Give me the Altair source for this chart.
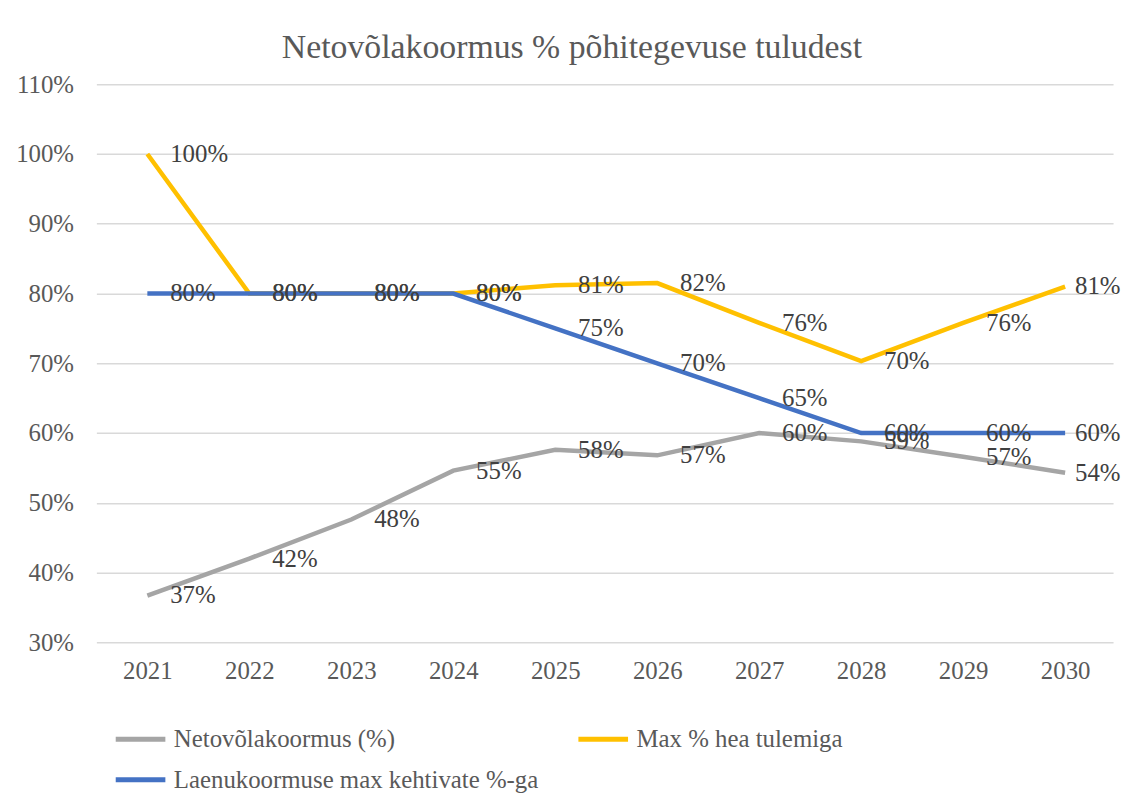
import altair as alt
import pandas as pd

years = [2021, 2022, 2023, 2024, 2025, 2026, 2027, 2028, 2029, 2030]
series_names = ["Netovõlakoormus (%)", "Max % hea tulemiga", "Laenukoormuse max kehtivate %-ga"]
netovolakoormus = [0.367, 0.420, 0.476, 0.546, 0.576, 0.568, 0.600, 0.588, 0.566, 0.543]
max_hea_tulemiga = [1.00, 0.80, 0.80, 0.80, 0.812, 0.815, 0.758, 0.703, 0.758, 0.810]
laenukoormus_max = [0.80, 0.80, 0.80, 0.80, 0.75, 0.70, 0.65, 0.60, 0.60, 0.60]
colors = ["#A5A5A5", "#FFC000", "#4472C4"]
y_ticks = [0.3, 0.4, 0.5, 0.6, 0.7, 0.8, 0.9, 1.0, 1.1]

rows = []
for name, vals in zip(series_names, [netovolakoormus, max_hea_tulemiga, laenukoormus_max]):
    for y, v in zip(years, vals):
        rows.append({"year": y, "value": v, "series": name})
df = pd.DataFrame(rows)

FONT = "Liberation Serif"

x = alt.X("year:Q", scale=alt.Scale(domain=[2020.5, 2030.47], nice=False, zero=False),
          axis=alt.Axis(values=years, format="d", title=None, grid=False, domain=False,
                        ticks=False, labelPadding=16, labelFlush=False))
y = alt.Y("value:Q", scale=alt.Scale(domain=[0.3, 1.1], nice=False, zero=False),
          axis=alt.Axis(values=y_ticks, format=".0%", title=None, domain=False, ticks=False,
                        labelPadding=23, gridColor="#D9D9D9", gridWidth=1.5))
color = alt.Color("series:N", scale=alt.Scale(domain=series_names, range=colors),
                  legend=alt.Legend(title=None, orient="none", legendX=17, legendY=632,
                                    direction="horizontal", columns=2, columnPadding=29,
                                    rowPadding=-7,
                                    symbolType="stroke", symbolSize=2500, symbolStrokeWidth=5,
                                    labelFont=FONT, labelFontSize=25, labelColor="#595959",
                                    labelOffset=6, padding=0, labelLimit=600))

base = alt.Chart(df)
lines = [
    base.transform_filter(alt.datum.series == name).mark_line(strokeWidth=4.5).encode(
        x=x, y=y, color=color)
    for name in series_names
]
labels_main = base.transform_filter(alt.datum.year < 2030).mark_text(
    align="left", baseline="middle", dx=23, font=FONT, fontSize=25, color="#404040"
).encode(x=x, y=y, text=alt.Text("value:Q", format=".0%"))
labels_last = base.transform_filter(alt.datum.year == 2030).mark_text(
    align="left", baseline="middle", dx=10, font=FONT, fontSize=25, color="#404040"
).encode(x=x, y=y, text=alt.Text("value:Q", format=".0%"))

chart = alt.layer(*lines, labels_main, labels_last).properties(
    width=1024, height=562,
    title=alt.TitleParams("Netovõlakoormus % põhitegevuse tuludest", font=FONT, fontSize=34,
                          fontWeight="normal", color="#595959", anchor="middle", dx=-33, offset=7),
    autosize=alt.AutoSizeParams(type="none"),
    padding={"left": 89, "top": 74, "right": 8, "bottom": 150},
    background="white",
).configure_view(stroke=None).configure_axis(
    labelFont=FONT, labelFontSize=25, labelColor="#595959"
)

chart.save("out.html", embed_options={"renderer": "svg", "actions": False})
